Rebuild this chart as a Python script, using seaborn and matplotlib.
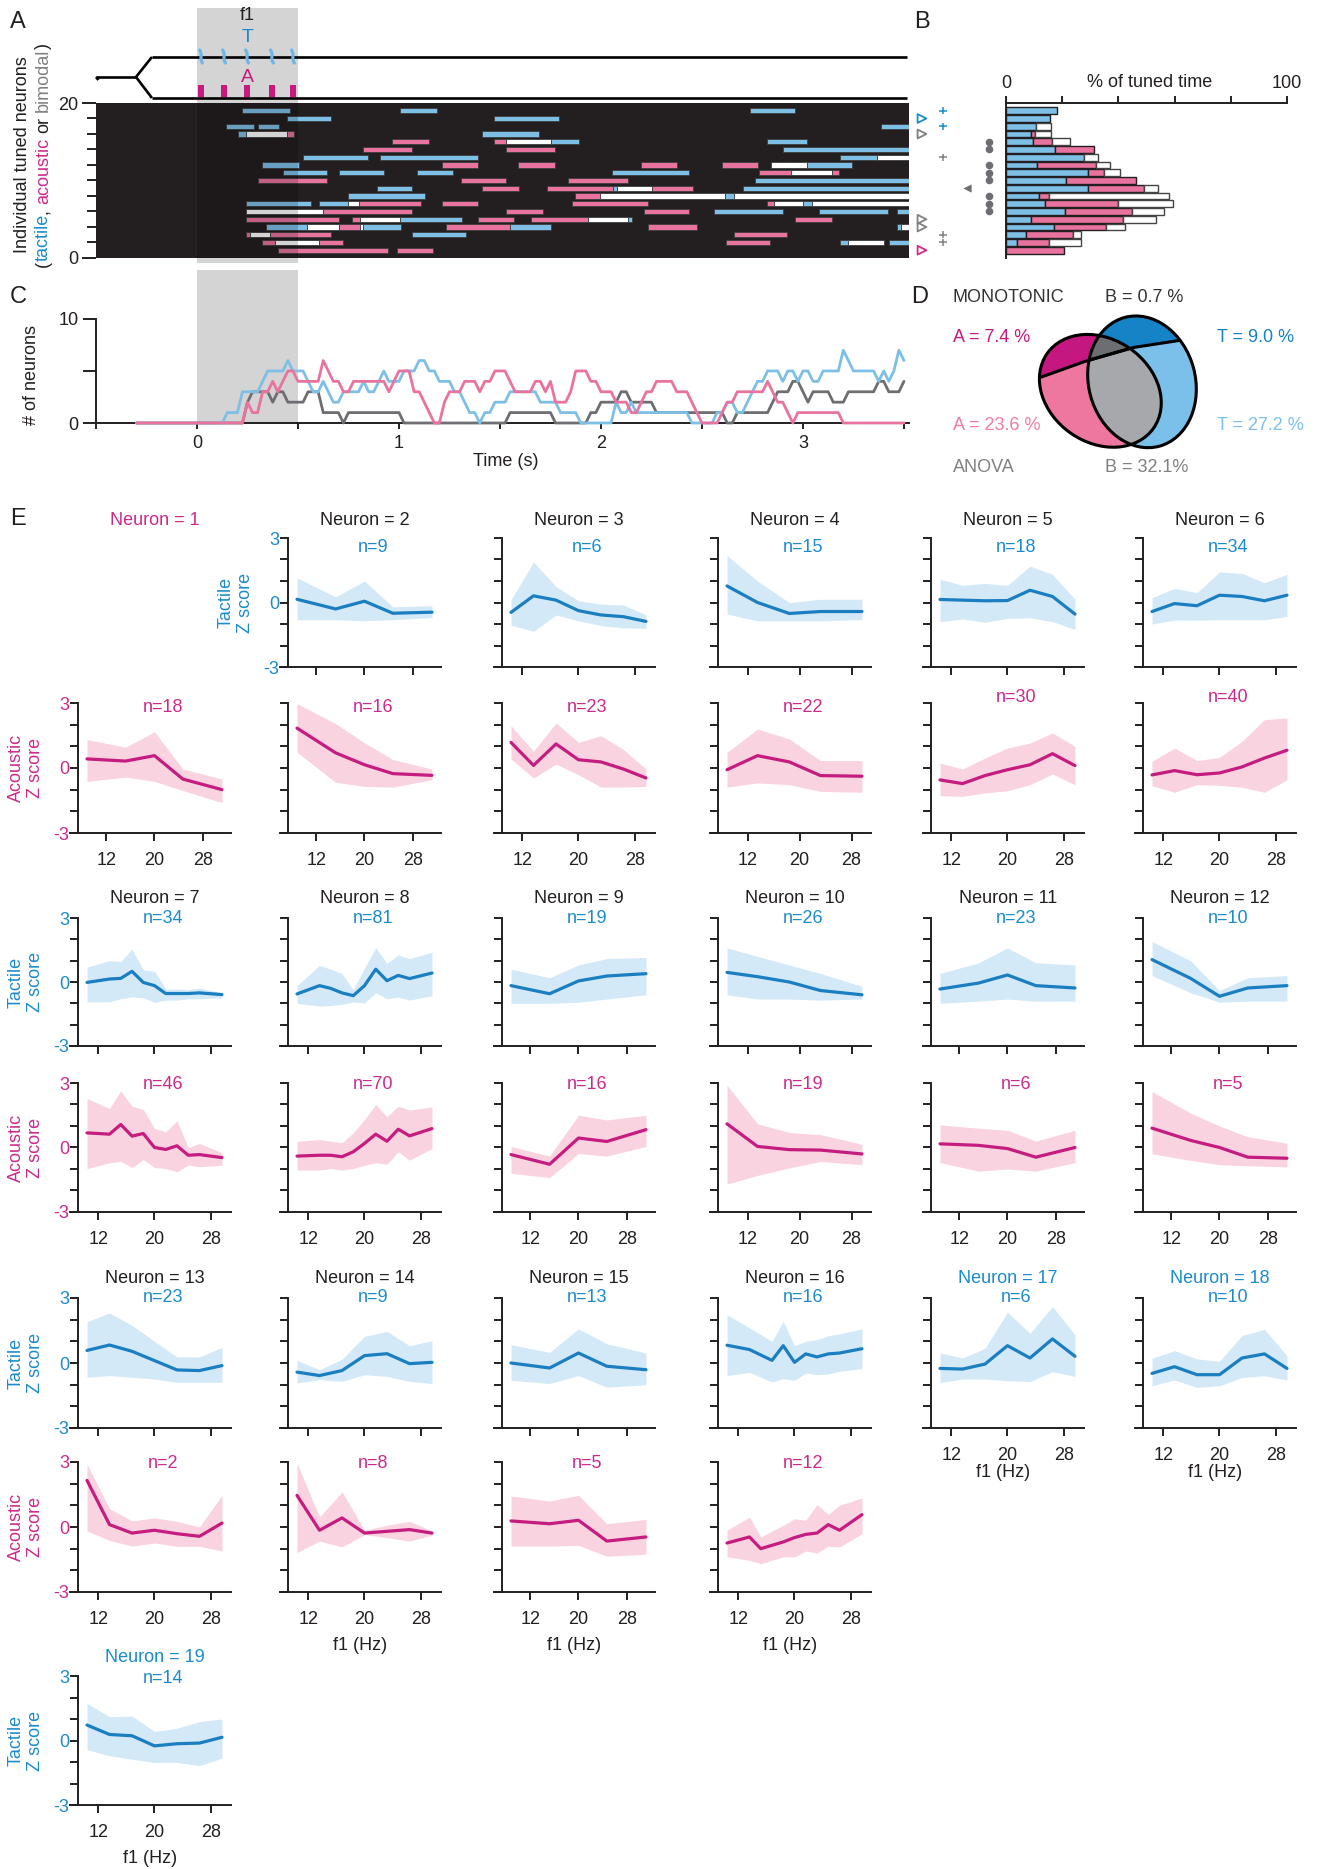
import numpy as np
import pandas as pd
import matplotlib
matplotlib.use("Agg")
import matplotlib.pyplot as plt
import seaborn as sns
from matplotlib.patches import Ellipse, Polygon
from matplotlib.transforms import blended_transform_factory

# =========================== DATA ===========================
# ---- Panel A: stimulus and tuned epochs per neuron slot (row 19 = top) ----
stim_on, stim_off = 0.0, 0.5
pulse_times = [0.020, 0.134, 0.248, 0.371, 0.475]

tuned_19 = [("T", 0.221, 0.460), ("T", 1.005, 1.187), ("T", 2.738, 2.960)]
tuned_18 = [("T", 0.444, 0.663), ("T", 1.472, 1.790)]
tuned_17 = [("T", 0.144, 0.282), ("T", 0.300, 0.404), ("T", 3.385, 3.525)]
tuned_16 = [("T", 0.201, 0.241), ("B", 0.241, 0.444), ("A", 0.444, 0.482), ("T", 1.409, 1.693)]
tuned_15 = [("A", 0.967, 1.149), ("A", 1.472, 1.530), ("B", 1.530, 1.752), ("T", 1.752, 1.891),
            ("T", 2.820, 3.021)]
tuned_14 = [("A", 0.823, 1.066), ("A", 1.530, 1.772), ("T", 2.903, 3.525)]
tuned_13 = [("T", 0.523, 0.848), ("T", 0.906, 1.389), ("T", 3.183, 3.365), ("B", 3.365, 3.525)]
tuned_12 = [("T", 0.322, 0.503), ("A", 1.211, 1.389), ("A", 1.591, 1.772), ("A", 2.196, 2.375),
            ("A", 2.599, 2.779), ("B", 2.840, 3.021), ("T", 3.021, 3.244)]
tuned_11 = [("T", 0.424, 0.645), ("T", 0.703, 0.926), ("T", 1.088, 1.269), ("T", 2.056, 2.437),
            ("A", 2.782, 2.941), ("B", 2.941, 3.142), ("A", 3.142, 3.180)]
tuned_10 = [("A", 0.304, 0.645), ("A", 1.307, 1.530), ("A", 1.835, 2.132), ("T", 2.762, 3.525)]
tuned_9 = [("T", 0.890, 1.066), ("A", 1.409, 1.594), ("A", 1.734, 2.058), ("T", 2.058, 2.077),
           ("B", 2.077, 2.254), ("A", 2.254, 2.457), ("T", 2.701, 3.525)]
tuned_8 = [("T", 0.746, 1.129), ("A", 1.873, 1.995), ("B", 1.995, 2.614), ("T", 2.614, 2.658),
           ("B", 2.658, 3.525)]
tuned_7 = [("T", 0.241, 0.563), ("T", 0.605, 0.746), ("B", 0.746, 0.804), ("A", 0.804, 1.107),
           ("A", 1.211, 1.389), ("A", 1.855, 2.234), ("A", 2.820, 2.858), ("B", 2.858, 2.998),
           ("T", 2.998, 3.043), ("B", 3.043, 3.525)]
tuned_6 = [("B", 0.241, 0.622), ("A", 0.622, 1.066), ("A", 1.530, 1.711), ("A", 2.214, 2.437),
           ("T", 2.559, 2.899), ("T", 3.081, 3.422), ("T", 3.464, 3.525)]
tuned_5 = [("A", 0.241, 0.703), ("A", 0.766, 0.807), ("B", 0.807, 1.005), ("T", 1.005, 1.310),
           ("A", 1.389, 1.571), ("A", 1.652, 1.934), ("B", 1.934, 2.135), ("T", 2.135, 2.152),
           ("A", 2.960, 3.142)]
tuned_4 = [("T", 0.342, 0.543), ("B", 0.543, 0.703), ("A", 0.703, 0.807), ("B", 0.807, 0.823),
           ("T", 0.823, 1.008), ("A", 1.231, 1.550), ("T", 1.550, 1.751), ("A", 2.234, 2.477),
           ("T", 3.464, 3.484), ("B", 3.484, 3.525)]
tuned_3 = [("A", 0.241, 0.262), ("B", 0.262, 0.361), ("A", 0.361, 0.663), ("T", 1.066, 1.332),
           ("A", 2.658, 2.919)]
tuned_2 = [("A", 0.322, 0.386), ("B", 0.386, 0.605), ("A", 0.605, 0.724), ("A", 2.617, 2.837),
           ("T", 3.183, 3.224), ("B", 3.224, 3.402), ("T", 3.426, 3.525)]
tuned_1 = [("A", 0.403, 0.944), ("A", 0.989, 1.167)]

raster_rows = list(range(19, 0, -1))
raster_segments = [tuned_19, tuned_18, tuned_17, tuned_16, tuned_15, tuned_14, tuned_13,
                   tuned_12, tuned_11, tuned_10, tuned_9, tuned_8, tuned_7, tuned_6, tuned_5,
                   tuned_4, tuned_3, tuned_2, tuned_1]

# ---- Panel B: % of tuned time per neuron slot ----
b_rows = list(range(19, 0, -1))
b_tactile = [18.1, 15.5, 10.7, 9.0, 9.5, 17.6, 27.9, 11.0, 29.1, 21.5, 29.1, 11.9, 14.0, 20.9, 9.0, 17.0, 7.2, 3.9, 0.0]
b_acoustic = [0.0, 0.0, 0.0, 1.2, 6.9, 13.6, 0.0, 21.0, 5.7, 24.8, 19.9, 3.3, 25.9, 24.1, 32.5, 18.7, 16.6, 11.3, 20.5]
b_bimodal = [0.0, 0.0, 5.3, 5.8, 6.5, 0.0, 4.7, 5.1, 5.7, 0.0, 5.1, 42.7, 19.6, 11.2, 11.9, 6.5, 3.0, 11.6, 0.0]
dot_rows = [15, 14, 12, 11, 10, 8, 7, 6]
filled_tri_rows = [9]
plus_rows = [19, 17, 13, 3, 2]
plus_kind = ["T", "T", "B", "B", "B"]
open_tri_rows = [18, 16, 5, 4, 1]
open_tri_kind = ["T", "B", "B", "B", "A"]

# ---- Panel D: Venn percentages ----
mono_pct = {"A": 7.4, "T": 9.0, "B": 0.7}
anova_pct = {"A": 23.6, "T": 27.2, "B": 32.1}

# ---- Panel E: tuning curves (f1 in Hz, Z score) ----
F5 = [8.8, 15.2, 20.0, 24.7, 31.2]
F5b = [8.8, 13.5, 18.4, 23.2, 29.6]
F7 = [10.4, 13.6, 16.8, 20.0, 23.2, 26.4, 29.6]
F10 = [10.4, 13.6, 16.8, 18.4, 20.0, 21.6, 23.2, 24.8, 26.4, 29.6]
F10b = [10.4, 13.6, 15.2, 18.4, 20.0, 21.6, 23.2, 24.8, 26.4, 29.6]
F11 = [10.4, 13.6, 15.2, 16.8, 18.4, 20.0, 21.6, 23.2, 24.8, 26.4, 29.6]

n1_a = dict(n=18, f=F5, mean=[0.42, 0.32, 0.57, -0.51, -1.0], lo=[-0.62, -0.42, -0.62, -1.04, -1.6], hi=[1.31, 0.96, 1.67, -0.05, -0.51])
n2_t = dict(n=9, f=F5, mean=[0.15, -0.3, 0.06, -0.5, -0.45], lo=[-0.8, -0.8, -0.85, -0.8, -0.7], hi=[1.15, 0.26, 1.0, -0.2, -0.15])
n2_a = dict(n=16, f=F5, mean=[1.84, 0.70, 0.15, -0.26, -0.34], lo=[0.73, -0.66, -0.85, -0.88, -0.54], hi=[2.97, 2.05, 1.16, 0.39, -0.05])
n3_t = dict(n=6, f=F7, mean=[-0.46, 0.31, 0.11, -0.38, -0.58, -0.66, -0.88], lo=[-1.05, -1.34, -0.58, -0.85, -1.08, -1.18, -1.2], hi=[0.12, 1.89, 0.74, 0.08, -0.08, -0.12, -0.57])
n3_a = dict(n=23, f=F7, mean=[1.18, 0.12, 1.11, 0.38, 0.28, -0.05, -0.46], lo=[0.42, -0.46, 0.18, -0.31, -0.88, -0.88, -0.85], hi=[1.95, 0.77, 2.08, 1.18, 1.49, 0.85, -0.05])
n4_t = dict(n=15, f=F5b, mean=[0.77, 0.0, -0.51, -0.42, -0.42], lo=[-0.54, -0.85, -0.85, -0.85, -0.8], hi=[2.18, 1.0, 0.0, 0.15, 0.15])
n4_a = dict(n=22, f=F5b, mean=[-0.08, 0.57, 0.28, -0.35, -0.38], lo=[-0.88, -0.69, -0.77, -1.08, -1.12], hi=[0.72, 1.8, 1.34, 0.34, 0.34])
n5_t = dict(n=18, f=F7, mean=[0.14, 0.11, 0.08, 0.09, 0.57, 0.28, -0.54], lo=[-0.89, -0.77, -0.92, -0.74, -0.71, -0.89, -1.26], hi=[1.08, 0.8, 0.89, 0.8, 1.69, 1.31, 0.15])
n5_a = dict(n=30, f=F7, mean=[-0.55, -0.72, -0.35, -0.08, 0.15, 0.66, 0.11], lo=[-1.28, -1.31, -1.15, -1.05, -0.77, -0.28, -0.77], hi=[0.23, -0.05, 0.46, 0.92, 1.15, 1.62, 1.0])
n6_t = dict(n=34, f=F7, mean=[-0.42, -0.05, -0.15, 0.34, 0.28, 0.08, 0.34], lo=[-1.0, -0.82, -0.82, -0.8, -0.8, -0.8, -0.65], hi=[0.22, 0.66, 0.46, 1.42, 1.35, 0.92, 1.31])
n6_a = dict(n=40, f=F7, mean=[-0.32, -0.12, -0.31, -0.23, 0.05, 0.46, 0.82], lo=[-0.82, -1.12, -0.77, -0.8, -0.89, -1.12, -0.54], hi=[0.31, 0.92, 0.34, 0.49, 1.23, 2.23, 2.31])
n7_t = dict(n=34, f=F11, mean=[-0.02, 0.14, 0.17, 0.5, -0.02, -0.17, -0.54, -0.54, -0.54, -0.51, -0.59], lo=[-0.93, -0.93, -0.78, -0.7, -0.74, -0.95, -0.85, -0.85, -0.79, -0.79, -0.74], hi=[0.7, 1.0, 0.96, 1.55, 0.57, 0.5, -0.33, -0.33, -0.36, -0.28, -0.51])
n7_a = dict(n=46, f=F11, mean=[0.68, 0.62, 1.07, 0.53, 0.65, 0.0, -0.09, 0.08, -0.36, -0.33, -0.47], lo=[-0.98, -0.71, -0.64, -0.93, -0.56, -0.93, -0.98, -1.13, -0.82, -0.9, -0.82], hi=[2.28, 1.81, 2.64, 1.92, 1.77, 0.88, 0.73, 1.24, 0.0, 0.19, -0.25])
n8_t = dict(n=81, f=F11, mean=[-0.56, -0.17, -0.3, -0.51, -0.64, -0.17, 0.6, 0.06, 0.31, 0.16, 0.42], lo=[-1.0, -1.13, -1.1, -1.05, -0.93, -0.98, -0.51, -0.79, -0.71, -0.85, -0.64], hi=[-0.17, 0.78, 0.6, 0.39, -0.36, 0.65, 1.61, 0.88, 1.27, 1.09, 1.4])
n8_a = dict(n=70, f=F11, mean=[-0.4, -0.36, -0.36, -0.43, -0.2, 0.19, 0.62, 0.29, 0.85, 0.54, 0.88], lo=[-1.05, -1.05, -0.98, -1.05, -0.98, -0.82, -0.71, -0.78, -0.2, -0.59, -0.05], hi=[0.29, 0.37, 0.29, 0.22, 0.68, 1.3, 2.0, 1.43, 1.92, 1.74, 1.89])
n9_t = dict(n=19, f=F5, mean=[-0.17, -0.55, 0.05, 0.28, 0.39], lo=[-1.0, -1.0, -0.95, -0.8, -0.6], hi=[0.6, 0.2, 0.8, 1.1, 1.15])
n9_a = dict(n=16, f=F5, mean=[-0.33, -0.78, 0.44, 0.28, 0.83], lo=[-1.2, -1.4, -0.28, -0.4, 0.05], hi=[0.05, -0.4, 1.5, 1.28, 1.5])
n10_t = dict(n=26, f=F5b, mean=[0.45, 0.25, 0.0, -0.4, -0.6], lo=[-0.6, -0.8, -0.8, -0.85, -0.8], hi=[1.6, 1.2, 0.8, 0.4, -0.2])
n10_a = dict(n=19, f=F5b, mean=[1.1, 0.05, -0.1, -0.12, -0.3], lo=[-1.7, -1.3, -0.95, -0.65, -0.8], hi=[2.9, 1.1, 0.7, 0.6, 0.15])
n11_t = dict(n=23, f=F5, mean=[-0.33, -0.05, 0.33, -0.17, -0.28], lo=[-1.0, -0.9, -0.8, -0.9, -0.9], hi=[0.4, 0.9, 1.6, 0.9, 0.8])
n11_a = dict(n=6, f=F5, mean=[0.17, 0.1, -0.05, -0.45, 0.0], lo=[-0.7, -1.1, -1.0, -1.1, -0.7], hi=[1.05, 0.9, 0.8, 0.3, 0.8])
n12_t = dict(n=10, f=F5, mean=[1.05, 0.17, -0.67, -0.28, -0.17], lo=[0.3, -0.5, -0.95, -0.9, -0.9], hi=[1.9, 1.0, -0.4, 0.2, 0.3])
n12_a = dict(n=5, f=F5, mean=[0.9, 0.33, 0.0, -0.45, -0.5], lo=[-0.3, -0.6, -0.8, -0.85, -0.9], hi=[2.6, 1.6, 1.0, 0.5, 0.2])
n13_t = dict(n=23, f=F7, mean=[0.58, 0.83, 0.54, 0.11, -0.32, -0.35, -0.12], lo=[-0.66, -0.58, -0.66, -0.74, -0.89, -0.89, -0.89], hi=[1.91, 2.31, 1.74, 1.0, 0.28, 0.28, 0.72])
n13_a = dict(n=2, f=F7, mean=[2.15, 0.11, -0.28, -0.15, -0.31, -0.43, 0.18], lo=[-0.18, -0.62, -0.88, -0.74, -0.89, -0.89, -1.11], hi=[2.9, 0.85, 0.28, 0.42, 0.26, 0.0, 1.46])
n14_t = dict(n=9, f=F7, mean=[-0.42, -0.58, -0.35, 0.34, 0.43, -0.03, 0.03], lo=[-0.92, -0.77, -0.85, -0.54, -0.62, -0.85, -0.95], hi=[0.12, -0.31, 0.18, 1.23, 1.46, 0.8, 1.03])
n14_a = dict(n=8, f=F7, mean=[1.46, -0.15, 0.42, -0.28, -0.2, -0.12, -0.28], lo=[-1.18, -0.65, -0.92, -0.35, -0.49, -0.65, -0.38], hi=[2.95, 0.46, 1.62, -0.15, 0.08, 0.26, -0.18])
n15_t = dict(n=13, f=F5, mean=[0.0, -0.23, 0.46, -0.15, -0.31], lo=[-0.8, -0.95, -0.58, -1.12, -1.0], hi=[0.85, 0.49, 1.58, 0.89, 0.46])
n15_a = dict(n=5, f=F5, mean=[0.28, 0.15, 0.31, -0.65, -0.46], lo=[-0.88, -0.88, -0.85, -1.35, -1.26], hi=[1.43, 1.2, 1.46, 0.15, 0.35])
n16_t = dict(n=16, f=F10, mean=[0.82, 0.62, 0.12, 0.8, 0.03, 0.42, 0.28, 0.42, 0.46, 0.66], lo=[-0.58, -0.43, -0.88, -0.72, -0.8, -0.46, -0.54, -0.51, -0.38, -0.26], hi=[2.23, 1.62, 1.0, 1.92, 0.8, 1.0, 1.08, 1.26, 1.35, 1.57])
n16_a = dict(n=12, f=F10b, mean=[-0.74, -0.46, -1.0, -0.69, -0.49, -0.34, -0.28, 0.11, -0.15, 0.57], lo=[-1.38, -1.54, -1.69, -1.38, -1.38, -1.11, -1.2, -0.89, -0.92, -0.31], hi=[-0.15, 0.46, -0.46, 0.08, 0.38, 0.31, 1.03, 0.58, 1.0, 1.34])
n17_t = dict(n=6, f=F7, mean=[-0.25, -0.28, -0.05, 0.8, 0.23, 1.11, 0.31], lo=[-0.9, -0.74, -0.74, -0.82, -0.86, -0.4, -0.62], hi=[0.46, 0.23, 0.68, 2.35, 1.37, 2.61, 1.3])
n18_t = dict(n=10, f=F7, mean=[-0.48, -0.17, -0.54, -0.54, 0.23, 0.42, -0.25], lo=[-1.05, -0.78, -1.13, -1.05, -0.67, -0.59, -0.78], hi=[0.22, 0.57, 0.19, 0.08, 1.27, 1.55, 0.34])
n19_t = dict(n=14, f=F7, mean=[0.72, 0.28, 0.22, -0.25, -0.15, -0.12, 0.15], lo=[-0.43, -0.71, -0.87, -1.02, -1.02, -1.17, -0.82], hi=[1.73, 1.11, 1.14, 0.42, 0.57, 0.88, 1.0])

neurons = [
    (1, "A", None, n1_a), (2, "B", n2_t, n2_a), (3, "B", n3_t, n3_a), (4, "B", n4_t, n4_a),
    (5, "B", n5_t, n5_a), (6, "B", n6_t, n6_a), (7, "B", n7_t, n7_a), (8, "B", n8_t, n8_a),
    (9, "B", n9_t, n9_a), (10, "B", n10_t, n10_a), (11, "B", n11_t, n11_a), (12, "B", n12_t, n12_a),
    (13, "B", n13_t, n13_a), (14, "B", n14_t, n14_a), (15, "B", n15_t, n15_a), (16, "B", n16_t, n16_a),
    (17, "T", n17_t, None), (18, "T", n18_t, None), (19, "T", n19_t, None),
]

# =========================== STYLE ===========================
sns.set_theme(style="ticks")
plt.rcParams["font.family"] = ["Liberation Sans", "DejaVu Sans"]
plt.rcParams["axes.unicode_minus"] = False

INK = "#231F20"
T_LIGHT, A_LIGHT, B_FILL = "#7EBFE6", "#E8739E", "#FFFFFF"
T_TXT, A_TXT, G_TXT = "#1B8BCC", "#CC2A8A", "#808080"
T_LINE, A_LINE = "#1A7EC0", "#C51C7F"
T_BAND, A_BAND = "#D4E9F7", "#F9D3E0"
GRAY = "#6D6E71"
SHADE = "#D4D4D4"
KIND_COLOR = {"T": T_LIGHT, "A": A_LIGHT, "B": B_FILL}
FS = 13

W, H = 1321, 1869
fig = plt.figure(figsize=(W / 100, H / 100), dpi=100)
fig.patch.set_facecolor("white")


def box(x0, y0, x1, y1):
    return [x0 / W, 1 - y1 / H, (x1 - x0) / W, (y1 - y0) / H]


def ftext(x, y, s, **kw):
    kw.setdefault("fontsize", FS)
    return fig.text(x / W, 1 - y / H, s, **kw)


T_MIN, T_MAX = -0.5, 3.525

# panel letters
for lab, (x, y) in {"A": (10, 22), "B": (914, 22), "C": (10, 297), "D": (911, 297), "E": (10, 519)}.items():
    ftext(x, y, lab, fontsize=17, ha="left", va="center", color=INK)

# =========================== PANEL A ===========================
axS = fig.add_axes(box(96, 0, 909, 103))
axS.set_xlim(T_MIN, T_MAX)
axS.set_ylim(103, 0)
axS.axis("off")
axS.axvspan(stim_on, stim_off, ymin=0, ymax=95 / 103, color=SHADE, lw=0, zorder=0)
lk = dict(color="black", lw=1.9, solid_capstyle="butt", clip_on=False)
axS.plot([-0.223, 3.515], [57, 57], **lk)
axS.plot([-0.223, 3.515], [98, 98], **lk)
axS.plot([-0.223, -0.302, -0.223], [57, 77, 98], **lk)
axS.plot([-0.302, -0.5], [77, 77], **lk)
axS.plot([-0.5, -0.488], [77, 80], **lk)
for tp in pulse_times:
    yy = np.linspace(50, 63, 20)
    xx = tp + 0.007 * (yy - 56.5) / 6.5 + 0.003 * np.sin((yy - 50) / 13 * 2 * np.pi)
    axS.plot(xx, yy, color="#6DB6E6", lw=2.3, solid_capstyle="round", zorder=3)
axS.bar(pulse_times, 12, bottom=85, width=0.026, color="#C8197E", lw=0, zorder=3)
mid = (stim_on + stim_off) / 2
axS.text(mid, 15, "f1", ha="center", va="center", fontsize=FS, color=INK)
axS.text(mid, 38, "T", ha="center", va="center", fontsize=FS + 1, color=T_TXT)
axS.text(mid, 77, "A", ha="center", va="center", fontsize=FS + 1, color="#C8197E")

axStrip = fig.add_axes(box(96, 258, 909, 263))
axStrip.set_xlim(T_MIN, T_MAX)
axStrip.axis("off")
axStrip.axvspan(stim_on, stim_off, color=SHADE, lw=0)

axR = fig.add_axes(box(96, 103, 909, 258))
axR.set_facecolor(INK)
for row, segs in zip(raster_rows, raster_segments):
    for kind, t0, t1 in segs:
        axR.barh(row, t1 - t0, left=t0, height=0.68, color=KIND_COLOR[kind],
                 edgecolor="#3c3c3c", linewidth=0.6)
axR.axvspan(stim_on, stim_off, color="black", alpha=0.17, lw=0, zorder=5)
axR.set_xlim(T_MIN, T_MAX)
axR.set_ylim(0, 20)
axR.set_xticks([])
axR.set_yticks([0, 20])
axR.set_yticks(range(2, 20, 2), minor=True)
axR.set_yticklabels(["0", "20"])
axR.tick_params(axis="y", which="major", length=10, width=1.4, pad=3, labelsize=FS, color=INK, labelcolor=INK)
axR.tick_params(axis="y", which="minor", length=6.5, width=1.4, color=INK, left=True)
for s in axR.spines.values():
    s.set_visible(False)
axR.grid(False)

# =========================== PANEL B ===========================
axB = fig.add_axes(box(1006, 103, 1287, 258))
bt = np.array(b_tactile)
ba = np.array(b_acoustic)
bb = np.array(b_bimodal)
rows_arr = np.array(b_rows)
m = bt > 0
axB.barh(rows_arr[m], bt[m], height=0.85, color=T_LIGHT, edgecolor=INK, lw=1.0)
m = ba > 0
axB.barh(rows_arr[m], ba[m], left=bt[m], height=0.85, color=A_LIGHT, edgecolor=INK, lw=1.0)
m = bb > 0
axB.barh(rows_arr[m], bb[m], left=(bt + ba)[m], height=0.85, color="white", edgecolor="#444444", lw=1.0)
axB.set_xlim(0, 100)
axB.set_ylim(0, 20)
axB.xaxis.tick_top()
axB.set_xticks([0, 20, 40, 60, 80, 100])
axB.set_xticklabels(["0", "", "", "", "", "100"])
axB.set_yticks([])
axB.tick_params(axis="x", direction="out", length=5, width=1.4, pad=3, labelsize=FS, color=INK, labelcolor=INK)
axB.spines["bottom"].set_visible(False)
axB.spines["right"].set_visible(False)
for s in ["top", "left"]:
    axB.spines[s].set_linewidth(1.4)
    axB.spines[s].set_color(INK)
trB = blended_transform_factory(axB.transData, axB.transAxes)
axB.text(51, 1.135, "% of tuned time", transform=trB, ha="center", va="center", fontsize=FS, color=INK)
mk_col = {"T": T_TXT, "A": "#D6288A", "B": "#808080"}
axB.scatter([-6] * len(dot_rows), dot_rows, s=30, color=GRAY, lw=0, clip_on=False, zorder=6)
axB.scatter([-14] * len(filled_tri_rows), filled_tri_rows, s=35, marker="<", color=GRAY, lw=0, clip_on=False, zorder=6)
axB.scatter([-22.4] * len(plus_rows), plus_rows, s=28, marker="+", c=[mk_col[k] for k in plus_kind],
            lw=1.1, clip_on=False, zorder=6)
axB.scatter([-29.9] * len(open_tri_rows), open_tri_rows, s=40, marker=">", facecolors="none",
            edgecolors=[mk_col[k] for k in open_tri_kind], lw=1.3, clip_on=False, zorder=6)

# =========================== PANEL C ===========================
t_grid = np.round(np.arange(-0.3, 3.5001, 0.025), 4)
recs = []
for kind in ["B", "T", "A"]:
    for t in t_grid:
        c = 0
        for segs in raster_segments:
            if any(k == kind and t0 <= t < t1 for k, t0, t1 in segs):
                c += 1
        recs.append((t, c, kind))
dfC = pd.DataFrame(recs, columns=["time", "count", "kind"])

axC = fig.add_axes(box(96, 270, 909, 423))
axC.axvspan(stim_on, stim_off, color=SHADE, lw=0, zorder=0)
sns.lineplot(data=dfC, x="time", y="count", hue="kind", hue_order=["B", "T", "A"],
             palette={"B": GRAY, "T": T_LIGHT, "A": A_LIGHT}, estimator=None, lw=2.0,
             legend=False, ax=axC, clip_on=False, zorder=3)
axC.set_xlim(T_MIN, T_MAX)
axC.set_ylim(0, 14.7)
axC.set_xlabel("")
axC.set_ylabel("")
axC.spines["top"].set_visible(False)
axC.spines["right"].set_visible(False)
axC.spines["left"].set_bounds(0, 10)
for s in ["left", "bottom"]:
    axC.spines[s].set_linewidth(1.4)
    axC.spines[s].set_color(INK)
axC.set_yticks([0, 5, 10])
axC.set_yticklabels(["0", "", "10"])
xt = np.arange(-0.5, 3.51, 0.5)
axC.set_xticks(xt)
axC.set_xticklabels([f"{v:.0f}" if abs(v - round(v)) < 1e-9 and v >= 0 else "" for v in xt])
axC.tick_params(axis="y", length=9.4, width=1.4, pad=3, labelsize=FS, color=INK, labelcolor=INK)
axC.tick_params(axis="x", length=4.3, width=1.4, pad=4, labelsize=FS, color=INK, labelcolor=INK)
ftext(506, 462, "Time (s)", ha="center", va="center", color=INK)
ftext(32, 375, "# of neurons", ha="center", va="center", rotation=90, color=INK)

# =========================== PANEL D ===========================
axD = fig.add_axes(box(1030, 310, 1210, 457))
axD.set_xlim(330, 870)
axD.set_ylim(-560, -120)
axD.set_aspect("equal")
axD.axis("off")
L_c, L_w, L_h, L_a = (541, -362), 390, 310, -35
R_c, R_w, R_h, R_a = (666, -335), 320, 400, 15
split = [(300, -343), (360, -322), (497, -273), (640, -232), (770, -212), (900, -192)]
top_poly = split + [(900, -80), (300, -80)]


def ell_pts(c, w, h, ang, n=720):
    t = np.linspace(0, 2 * np.pi, n, endpoint=False)
    x, y = w / 2 * np.cos(t), h / 2 * np.sin(t)
    a = np.deg2rad(ang)
    return np.c_[c[0] + x * np.cos(a) - y * np.sin(a), c[1] + x * np.sin(a) + y * np.cos(a)]


def inside(p, c, w, h, ang):
    a = np.deg2rad(ang)
    dx, dy = p[:, 0] - c[0], p[:, 1] - c[1]
    xr = dx * np.cos(a) + dy * np.sin(a)
    yr = -dx * np.sin(a) + dy * np.cos(a)
    return (xr / (w / 2)) ** 2 + (yr / (h / 2)) ** 2 <= 1


pL = ell_pts(L_c, L_w, L_h, L_a)
pR = ell_pts(R_c, R_w, R_h, R_a)
ip = np.vstack([pL[inside(pL, R_c, R_w, R_h, R_a)], pR[inside(pR, L_c, L_w, L_h, L_a)]])
cen = ip.mean(axis=0)
ip = ip[np.argsort(np.arctan2(ip[:, 1] - cen[1], ip[:, 0] - cen[0]))]

eL = Ellipse(L_c, L_w, L_h, angle=L_a, fc="#EE77A0", ec="none", zorder=1)
axD.add_patch(eL)
pp = Polygon(top_poly, fc="#C4177F", ec="none", zorder=2)
axD.add_patch(pp)
pp.set_clip_path(eL)
eR = Ellipse(R_c, R_w, R_h, angle=R_a, fc="#7AC0EB", ec="none", zorder=3)
axD.add_patch(eR)
pp = Polygon(top_poly, fc="#1683C6", ec="none", zorder=4)
axD.add_patch(pp)
pp.set_clip_path(eR)
inter = Polygon(ip, fc="#A7A8AB", ec="none", zorder=5)
axD.add_patch(inter)
pp = Polygon(top_poly, fc=GRAY, ec="none", zorder=6)
axD.add_patch(pp)
pp.set_clip_path(inter)
for c, w, h, a in [(L_c, L_w, L_h, L_a), (R_c, R_w, R_h, R_a)]:
    axD.add_patch(Ellipse(c, w, h, angle=a, fill=False, ec="black", lw=2.2, zorder=8))
sx, sy = zip(*split)
for clip in (eL, eR):
    ln, = axD.plot(sx, sy, color="black", lw=2.2, zorder=7)
    ln.set_clip_path(clip)

ftext(953, 297, "MONOTONIC", ha="left", va="center", color="#333333")
ftext(1105, 297, f"B = {mono_pct['B']:.1f} %", ha="left", va="center", color="#333333")
ftext(953, 337, f"A = {mono_pct['A']:.1f} %", ha="left", va="center", color="#C4177F")
ftext(1217, 337, f"T = {mono_pct['T']:.1f} %", ha="left", va="center", color="#1683C6")
ftext(953, 425, f"A = {anova_pct['A']:.1f} %", ha="left", va="center", color="#F07BA3")
ftext(1217, 425, f"T = {anova_pct['T']:.1f} %", ha="left", va="center", color="#7AC0EB")
ftext(953, 468, "ANOVA", ha="left", va="center", color=G_TXT)
ftext(1105, 468, f"B = {anova_pct['B']:.1f}%", ha="left", va="center", color=G_TXT)

# =========================== PANEL E ===========================
COL_X = [78, 288, 502, 718, 931, 1143]
ROW_T = {0: (538, 667), 1: (918, 1046), 2: (1298, 1428), 3: (1676, 1805)}
ROW_A = {0: (703, 833), 1: (1083, 1212), 2: (1462, 1592)}
TITLE_Y = {0: 520, 1: 898, 2: 1278, 3: 1657}
NT_Y = {0: 547, 1: 918, 2: 1297, 3: 1678}
NA_Y = {0: 707, 1: 1084, 2: 1463}
NA_Y_OVERRIDE = {5: 698, 6: 698}
TITLE_COL = {"A": A_TXT, "B": INK, "T": T_TXT}


def draw_e(col, rows, d, kind, xlim, ylab, xlab, xtitle, xpad=6):
    x0 = COL_X[col]
    ax = fig.add_axes(box(x0 - 8, rows[0], x0 + 153, rows[1]))
    ax.set_facecolor("none")
    line_c = T_LINE if kind == "T" else A_LINE
    band_c = T_BAND if kind == "T" else A_BAND
    ax.fill_between(d["f"], d["lo"], d["hi"], color=band_c, lw=0, zorder=1)
    sns.lineplot(x=d["f"], y=d["mean"], ax=ax, color=line_c, lw=2.3, estimator=None, sort=False, zorder=2)
    ax.set_xlim(*xlim)
    ax.set_ylim(-3, 3)
    ax.set_xticks([12, 20, 28])
    ax.set_yticks([-3, -2, -1, 0, 1, 2, 3])
    ax.set_xlabel("")
    ax.set_ylabel("")
    ax.spines["top"].set_visible(False)
    ax.spines["right"].set_visible(False)
    ax.spines["left"].set_position(("axes", 8 / 161))
    for s in ["left", "bottom"]:
        ax.spines[s].set_linewidth(1.4)
        ax.spines[s].set_color(INK)
    ax.tick_params(axis="both", direction="out", length=6, width=1.4, color=INK)
    ax.tick_params(axis="x", labelsize=FS, pad=8, labelcolor=INK, labelbottom=xlab)
    tcol = T_TXT if kind == "T" else A_TXT
    if ylab:
        ax.set_yticklabels(["-3", "", "", "0", "", "", "3"])
        ax.tick_params(axis="y", labelsize=FS, pad=0.5, labelcolor=tcol)
        name = "Tactile\nZ score" if kind == "T" else "Acoustic\nZ score"
        ftext(x0 - 52, (rows[0] + rows[1]) / 2, name, rotation=90, ha="center", va="center",
              color=tcol, linespacing=1.15, multialignment="center")
    else:
        ax.tick_params(axis="y", labelleft=False)
    if xtitle:
        ax.set_xlabel("f1 (Hz)", fontsize=FS, color=INK, labelpad=xpad)
    return ax


for k, ntype, dt, da in neurons:
    blk, col = (k - 1) // 6, (k - 1) % 6
    x0 = COL_X[col]
    fs_all = [f for d in (dt, da) if d is not None for f in d["f"]]
    fmin, fmax = min(fs_all), max(fs_all)
    tot = (fmax - fmin) / 0.838
    xlim = (fmin - 0.1056 * tot, fmax + 0.056 * tot)
    ftext(x0 + 77, TITLE_Y[blk], f"Neuron = {k}", ha="center", va="center", color=TITLE_COL[ntype])
    if dt is not None:
        draw_e(col, ROW_T[blk], dt, "T", xlim, ylab=(col == 0 or k == 2), xlab=(da is None),
               xtitle=(da is None), xpad=(0 if k in (17, 18) else 6))
        ftext(x0 + 85, NT_Y[blk], f"n={dt['n']}", ha="center", va="center", color=T_TXT)
    if da is not None:
        draw_e(col, ROW_A[blk], da, "A", xlim, ylab=(col == 0), xlab=True,
               xtitle=(k in (14, 15, 16)))
        ftext(x0 + 85, NA_Y_OVERRIDE.get(k, NA_Y[blk]), f"n={da['n']}", ha="center", va="center", color=A_TXT)

# ---- multicolour y label of panel A ----
fig.canvas.draw()
renderer = fig.canvas.get_renderer()


def text_w(s):
    t = fig.text(0, 0, s, fontsize=FS)
    w = t.get_window_extent(renderer=renderer).width
    t.remove()
    return w


line1 = "Individual tuned neurons"
w1 = text_w(line1)
ftext(27, 155 + w1 / 2, line1, rotation=90, rotation_mode="anchor", ha="left", va="baseline", color=INK)
pieces = [("(", INK), ("tactile", T_TXT), (", ", INK), ("acoustic", A_TXT), (" or ", INK),
          ("bimodal", G_TXT), (")", INK)]
full = "".join(p for p, _ in pieces)
total = text_w(full)
y_start = 155 + total / 2
idx = 0
for s, c in pieces:
    core = s.strip()
    if core:
        i = idx + (len(s) - len(s.lstrip()))
        off = 0.0 if i == 0 else text_w(full[:i] + core) - text_w(core)
        ftext(48, y_start - off, core, rotation=90, rotation_mode="anchor", ha="left",
              va="baseline", color=c)
    idx += len(s)

fig.savefig("out.png", dpi=100, facecolor="white")
